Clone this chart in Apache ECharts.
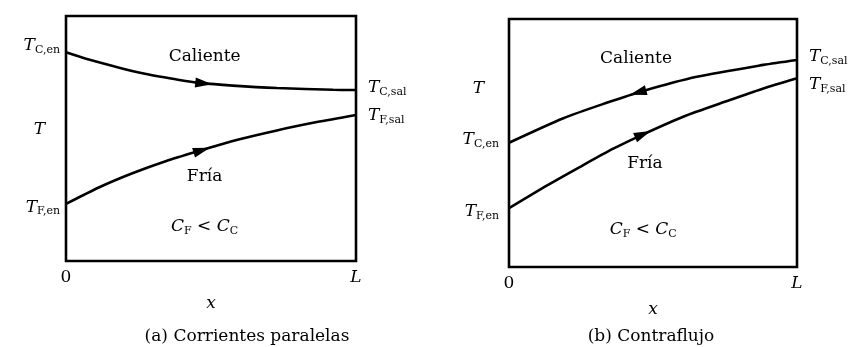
<!DOCTYPE html>
<html><head><meta charset="utf-8">
<script src="https://cdn.jsdelivr.net/npm/echarts@6/dist/echarts.min.js"></script>
<style>html,body{margin:0;padding:0;background:#fff}#c{width:854px;height:347px}</style>
</head><body><div id="c"></div>
<script>
// ---- data (normalized: x in [0, L=1], T in [0,1]) ----
const xHotA  = [0, 0.069, 0.264, 0.391, 0.461, 0.575, 0.727, 0.921, 1];
const tHotA  = [0.852, 0.826, 0.766, 0.739, 0.727, 0.716, 0.706, 0.699, 0.698];
const xColdA = [0, 0.115, 0.229, 0.346, 0.461, 0.575, 0.727, 0.865, 1];
const tColdA = [0.233, 0.301, 0.358, 0.408, 0.450, 0.490, 0.533, 0.567, 0.596];

const xHotB  = [0, 0.189, 0.339, 0.466, 0.652, 0.883, 1];
const tHotB  = [0.501, 0.600, 0.662, 0.710, 0.767, 0.815, 0.835];
const xColdB = [0, 0.131, 0.247, 0.362, 0.466, 0.605, 0.767, 0.883, 1];
const tColdB = [0.237, 0.328, 0.404, 0.477, 0.535, 0.606, 0.673, 0.720, 0.761];

// flow-direction arrows: [x, T, angle]
const arrowsA = [[0.475, 0.725, -96.5], [0.468, 0.452, -73]];
const arrowsB = [[0.448, 0.704, 105.5], [0.465, 0.535, -67]];

// tick labels
const xTicks = {0: '0', 1: 'L'};
const leftLabelsA  = [[0.878, 'TCen'], [0.535, 'T'], [0.22, 'TFen']];
const rightLabelsA = [[0.706, 'TCsal'], [0.592, 'TFsal']];
const leftLabelsB  = [[0.718, 'T'], [0.512, 'TCen'], [0.222, 'TFen']];
const rightLabelsB = [[0.847, 'TCsal'], [0.734, 'TFsal']];

// in-plot annotations
const notesA = [[0.478, 0.833, 'Caliente'], [0.478, 0.343, 'Fría'], [0.478, 0.139, 'CFC']];
const notesB = [[0.441, 0.839, 'Caliente'], [0.472, 0.419, 'Fría'], [0.466, 0.149, 'CFC']];
const captions = ['(a) Corrientes paralelas', '(b) Contraflujo'];

// ---- rendering ----
const FONT = 'DejaVu Serif';
const FS = 17;
const rich = {
  m: {fontFamily: FONT, fontSize: FS, color: '#000'},
  i: {fontFamily: FONT, fontSize: FS, color: '#000', fontStyle: 'italic'},
  s: {fontFamily: FONT, fontSize: 11, color: '#000', verticalAlign: 'bottom', padding: [8, 0, 0, 0]},
  ti: {fontFamily: FONT, fontSize: FS, color: '#000', fontStyle: 'italic', padding: [0, 15, 0, 0]},
  tl: {fontFamily: FONT, fontSize: FS, color: '#000', fontStyle: 'italic'}
};
function fmt(key, side) {
  switch (key) {
    case 'TCen': return '{i|T}{s|C,en}';
    case 'TFen': return '{i|T}{s|F,en}';
    case 'TCsal': return '{i|T}{s|C,sal}';
    case 'TFsal': return '{i|T}{s|F,sal}';
    case 'T': return side === 'left' ? '{ti|T}' : '{tl|T}';
    case 'CFC': return '{i|C}{s|F}{m| < }{i|C}{s|C}';
    default: return '{m|' + key + '}';
  }
}
function yAxisFor(grid, labels, pos, margin) {
  const map = {};
  labels.forEach(l => map[l[0]] = l[1]);
  return {
    type: 'value', gridIndex: grid, min: 0, max: 1, position: pos,
    axisLine: {show: false}, axisTick: {show: false}, splitLine: {show: false},
    axisLabel: {
      show: true, margin: margin, customValues: labels.map(l => l[0]),
      formatter: v => fmt(map[v], pos), rich: rich
    }
  };
}
function xAxisFor(grid) {
  return {
    type: 'value', gridIndex: grid, min: 0, max: 1, interval: 1,
    axisLine: {show: false}, axisTick: {show: false}, splitLine: {show: false},
    axisLabel: {margin: 8, formatter: v => v === 0 ? '{m|0}' : '{i|' + xTicks[v] + '}', rich: rich},
    name: 'x', nameLocation: 'middle', nameGap: 34,
    nameTextStyle: {fontFamily: FONT, fontSize: FS, fontStyle: 'italic', color: '#000'}
  };
}
function curve(xs, ts, xi, yi) {
  return {
    type: 'line', xAxisIndex: xi, yAxisIndex: yi, smooth: 0.25, symbol: 'none',
    lineStyle: {color: '#000', width: 2.6}, data: xs.map((x, i) => [x, ts[i]]), z: 3
  };
}
function arrows(arr, xi, yi) {
  return {
    type: 'scatter', xAxisIndex: xi, yAxisIndex: yi, symbol: 'triangle',
    symbolSize: [10, 17], itemStyle: {color: '#000', opacity: 1}, z: 4,
    data: arr.map(a => ({value: [a[0], a[1]], symbolRotate: a[2]}))
  };
}
function notes(arr, xi, yi) {
  return {
    type: 'scatter', xAxisIndex: xi, yAxisIndex: yi, symbolSize: 0, z: 5,
    itemStyle: {opacity: 1, color: '#000'},
    label: {show: true, position: 'inside', color: '#000', opacity: 1, formatter: p => fmt(p.data[2]), rich: rich},
    data: arr
  };
}

const chart = echarts.init(document.getElementById('c'));
chart.setOption({
  backgroundColor: '#fff',
  animation: false,
  grid: [
    {left: 66, top: 16, width: 290, height: 245, show: true, borderColor: '#000', borderWidth: 2.6, backgroundColor: 'transparent'},
    {left: 509, top: 19, width: 288, height: 248, show: true, borderColor: '#000', borderWidth: 2.6, backgroundColor: 'transparent'}
  ],
  xAxis: [xAxisFor(0), xAxisFor(1)],
  yAxis: [
    yAxisFor(0, leftLabelsA, 'left', 6),
    yAxisFor(0, rightLabelsA, 'right', 12),
    yAxisFor(1, leftLabelsB, 'left', 10),
    yAxisFor(1, rightLabelsB, 'right', 12)
  ],
  series: [
    curve(xHotA, tHotA, 0, 0), curve(xColdA, tColdA, 0, 0),
    curve(xHotB, tHotB, 1, 2), curve(xColdB, tColdB, 1, 2),
    arrows(arrowsA, 0, 0), arrows(arrowsB, 1, 2),
    notes(notesA, 0, 0), notes(notesB, 1, 2)
  ],
  graphic: [
    {type: 'text', x: 247, y: 337, style: {text: captions[0], font: FS + 'px "' + FONT + '"', fill: '#000', textAlign: 'center', textVerticalAlign: 'middle'}},
    {type: 'text', x: 651, y: 337, style: {text: captions[1], font: FS + 'px "' + FONT + '"', fill: '#000', textAlign: 'center', textVerticalAlign: 'middle'}}
  ]
});
</script></body></html>
